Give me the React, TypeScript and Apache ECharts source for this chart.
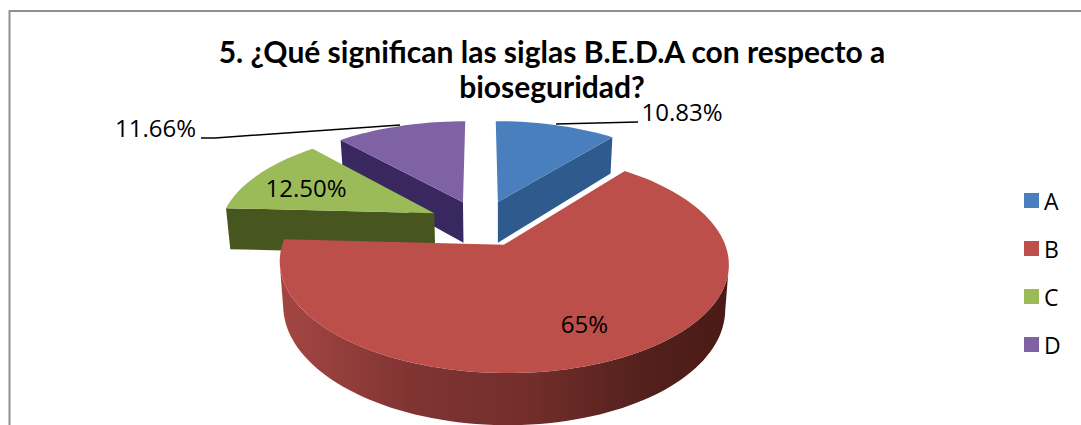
import React, { useEffect, useRef } from "react";
import * as echarts from "echarts";

const titleText = "5. ¿Qué significan las siglas B.E.D.A con respecto a\nbioseguridad?";
const categories = ["A", "B", "C", "D"];
const values = [10.83, 65, 12.5, 11.66];
const valueLabels = ["10.83%", "65%", "12.50%", "11.66%"];
const topColors = ["#4a7fbd", "#bd4f4b", "#9bbb59", "#7f62a3"];
const wallColors = ["#2f5a8e", "#7d3230", "#47561f", "#38285f"];
const drawOrder = [3, 4, 2, 1]; // z per category: D back, then C, A, B in front
const sliceShiftX = [-1, 0, -5, -3];

// Perspective view of the pie plane
const view = { ox: 483, oy: 223, a: 214, b: 100, k: 0.16, explode: 0.23, depth: 42, vx: 500, shrink: 0.016 };
const FONT = "'Open Sans', sans-serif";

function project(X: number, Y: number) {
  const s = 1 / (1 + view.k * Y);
  return { x: view.ox + view.a * X * s, y: view.oy - view.b * Y * s, s };
}
function top(p: { x: number; y: number }) {
  return [p.x, p.y];
}
function bottom(p: { x: number; y: number; s: number }) {
  return [p.x - (p.x - view.vx) * view.shrink, p.y + view.depth * p.s];
}

function sliceChildren(i: number) {
  const total = values.reduce((a, b) => a + b, 0);
  let before = 0;
  for (let j = 0; j < i; j++) before += values[j];
  const a0 = (before / total) * Math.PI * 2;
  const a1 = ((before + values[i]) / total) * Math.PI * 2;
  const mid = (a0 + a1) / 2;
  const cx = view.explode * Math.sin(mid);
  const cy = view.explode * Math.cos(mid);
  const apex = project(cx, cy);
  const steps = Math.max(12, Math.round(((a1 - a0) / (Math.PI * 2)) * 180));
  const arc: ReturnType<typeof project>[] = [];
  for (let n = 0; n <= steps; n++) {
    const t = a0 + ((a1 - a0) * n) / steps;
    arc.push(project(cx + Math.sin(t), cy + Math.cos(t)));
  }
  const centroid = project(cx + 0.6 * Math.sin(mid), cy + 0.6 * Math.cos(mid));
  const children: any[] = [];

  // Radial walls that face the viewer
  [arc[0], arc[arc.length - 1]].forEach((corner) => {
    const dx = corner.x - apex.x;
    if (Math.abs(dx) < 8) return;
    const lineY = apex.y + ((corner.y - apex.y) * (centroid.x - apex.x)) / dx;
    if (centroid.y < lineY) {
      children.push({
        type: "polygon",
        shape: { points: [top(apex), top(corner), bottom(corner), bottom(apex)] },
        style: { fill: wallColors[i] },
      });
    }
  });

  // Outer wall: the part of the arc running right-to-left on screen
  const front = arc.filter((p, n) => (n < arc.length - 1 ? arc[n + 1].x < p.x : arc[n - 1].x > p.x));
  if (front.length > 1) {
    const fill = new echarts.graphic.LinearGradient(0, 0, 1, 0, [
      { offset: 0, color: "#a44643" },
      { offset: 0.3, color: "#7f3432" },
      { offset: 0.55, color: "#732e2b" },
      { offset: 0.8, color: "#54211d" },
      { offset: 1, color: "#4a1a17" },
    ]);
    children.push({
      type: "polygon",
      shape: { points: [...front.map(top), ...front.slice().reverse().map(bottom)] },
      style: { fill },
    });
  }

  // Top face
  children.push({
    type: "polygon",
    shape: { points: [top(apex), ...arc.map(top)] },
    style: { fill: topColors[i] },
  });
  return { type: "group", x: sliceShiftX[i], children };
}

function makeOption() {
  return {
    animation: false,
    backgroundColor: "#ffffff",
    color: topColors,
    title: {
      text: titleText,
      left: 547,
      top: 28,
      padding: 5,
      textAlign: "center",
      textStyle: { fontFamily: "Lato, sans-serif", fontSize: 30, fontWeight: "bold", color: "#000000", lineHeight: 35 },
    },
    legend: {
      data: categories,
      orient: "vertical",
      left: 1024,
      top: 189,
      padding: 0,
      itemWidth: 15,
      itemHeight: 15,
      itemGap: 25,
      icon: "rect",
      selectedMode: false,
      textStyle: { fontFamily: FONT, fontSize: 23, color: "#000000" },
    },
    series: categories.map((name, i) => ({
      type: "custom",
      name,
      coordinateSystem: "none",
      z: drawOrder[i] + 1,
      silent: true,
      itemStyle: { color: topColors[i] },
      data: [[values[i]]],
      renderItem: () => sliceChildren(i),
    })),
    graphic: {
      elements: [
        {
          type: "polyline",
          z: 20,
          silent: true,
          shape: { points: [[9.5, 425], [9.5, 11], [1081, 11]] },
          style: { stroke: "#8f8f8f", lineWidth: 2, fill: "none" },
        },
        {
          type: "polyline",
          z: 20,
          silent: true,
          shape: { points: [[556, 124], [638, 122]] },
          style: { stroke: "#000000", lineWidth: 1.5, fill: "none" },
        },
        {
          type: "polyline",
          z: 20,
          silent: true,
          shape: { points: [[201, 138], [215, 138], [400, 125]] },
          style: { stroke: "#000000", lineWidth: 1.5, fill: "none" },
        },
        ...[
          [682, 111],
          [584.5, 323],
          [306, 187],
          [155.5, 127],
        ].map((pos, i) => ({
          type: "text",
          z: 21,
          silent: true,
          x: pos[0],
          y: pos[1],
          style: {
            text: valueLabels[i],
            fontFamily: FONT,
            fontSize: 24,
            fill: "#000000",
            align: "center",
            verticalAlign: "middle",
          },
        })),
      ],
    },
  };
}

export default function App() {
  const ref = useRef<HTMLDivElement>(null);
  useEffect(() => {
    document.body.style.margin = "0";
    const chart = echarts.init(ref.current!, undefined, { renderer: "svg" });
    chart.setOption(makeOption() as any);
    return () => chart.dispose();
  }, []);
  return <div ref={ref} style={{ position: "absolute", left: 0, top: 0, width: 1081, height: 425 }} />;
}
